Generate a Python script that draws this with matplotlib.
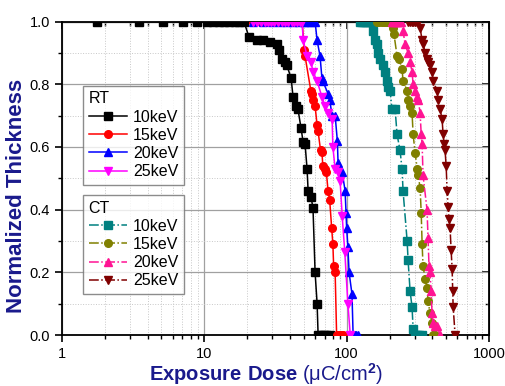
import numpy as np
import matplotlib.pyplot as plt
from matplotlib.ticker import FixedLocator, NullFormatter, MultipleLocator, FormatStrFormatter

plt.rcParams['font.family'] = ['Liberation Sans', 'DejaVu Sans']
plt.rcParams['mathtext.fontset'] = 'custom'
plt.rcParams['mathtext.rm'] = 'Liberation Sans'
plt.rcParams['mathtext.bf'] = 'Liberation Sans:bold'

#RT
rt10_x = [1.76, 3.5, 5.1, 7.1, 8.9, 10.4, 11.5, 12.6, 13.8, 15.0, 16.3, 17.6, 19.0, 20.6, 23.5, 25.9, 29, 32.4, 33.5,
          35.2, 36.9, 38, 40.7, 42, 44.1, 45.5, 47.8, 49.4, 51, 52.7, 53.6, 56.2, 58, 60, 62, 63, 66, 69, 72, 76]
rt10_y = [1, 1, 1, 1, 1, 1, 1, 1, 1, 1, 1, 1, 1, 0.95, 0.94, 0.94, 0.935, 0.93, 0.91,
          0.88, 0.87, 0.86, 0.82, 0.76, 0.73, 0.72, 0.66, 0.617, 0.61, 0.53, 0.46, 0.44, 0.405, 0.20, 0.10, 0.0, 0, 0, 0, 0]

rt15_x = [22, 25, 28, 31, 34, 37, 40, 43, 46, 48.6, 50.5, 51, 56, 57, 58, 60, 62, 63, 65.5, 67, 68, 70, 72, 74,
          76, 78.5, 80, 81, 83, 85, 88, 91, 94]
rt15_y = [1, 1, 1, 1, 1, 1, 1, 1, 1, 1, 0.91, 0.89, 0.78, 0.77, 0.75, 0.73, 0.67, 0.65, 0.59, 0.585, 0.54, 0.53, 0.52, 0.46,
          0.43, 0.34, 0.29, 0.22, 0.20, 0, 0, 0, 0]

rt20_x = [22, 26, 30, 34, 38, 42, 46, 50, 53, 56, 60, 62, 65, 67, 68, 74, 76, 79, 83, 86, 87, 93, 97.5,
          99, 100, 102, 104, 109, 111, 114, 117, 120]
rt20_y = [1, 1, 1, 1, 1, 1, 1, 1, 1, 1, 1, 0.94, 0.89, 0.82, 0.81, 0.77, 0.75, 0.70, 0.70, 0.62, 0.55, 0.52, 0.46,
          0.39, 0.34, 0.28, 0.20, 0.13, 0, 0, 0, 0]

rt25_x = [22, 23.5, 25, 26.5, 28, 29.5, 31, 33, 35, 37, 39, 41, 43, 45, 47, 48.6, 49.5, 52.7, 56.2, 58, 62,
          67, 70.5, 74, 79, 80, 83, 87, 90, 93, 97, 102, 106]
rt25_y = [1, 1, 1, 1, 1, 1, 1, 1, 1, 1, 1, 1, 1, 1, 1, 1, 0.94, 0.89, 0.87, 0.84, 0.81,
          0.76, 0.73, 0.71, 0.69, 0.60, 0.53, 0.52, 0.49, 0.38, 0.265, 0.10, 0]

#CT
ct10_x = [124, 128, 132, 137, 141, 146, 150, 153, 158, 164, 166, 172, 180, 186, 192, 195, 202, 208, 219, 226,
          237, 245, 249, 266, 270, 279, 288, 293, 300, 310, 322, 339]
ct10_y = [1, 1, 1, 1, 1, 1, 1, 0.97, 0.94, 0.93, 0.90, 0.88, 0.86, 0.84, 0.81, 0.79, 0.78, 0.72, 0.72, 0.64,
          0.59, 0.53, 0.46, 0.30, 0.24, 0.14, 0.09, 0.02, 0, 0, 0, 0]

ct15_x = [164, 170, 176, 182, 188, 194, 200, 206, 212, 215, 226, 233, 245, 249, 266, 270, 279, 288, 293, 303,
          313, 318, 328, 334, 339, 344, 356, 367, 373, 385, 398, 405, 412, 418]
ct15_y = [1, 1, 1, 1, 1, 1, 1, 1, 0.98, 0.96, 0.89, 0.88, 0.85, 0.81, 0.78, 0.75, 0.73, 0.71, 0.64, 0.58,
          0.53, 0.51, 0.47, 0.39, 0.29, 0.22, 0.18, 0.15, 0.11, 0.07, 0.04, 0, 0, 0]

ct20_x = [208, 212, 218, 224, 230, 236, 242, 249, 257, 270, 279, 288, 293, 303, 313, 318, 328, 334, 339, 344,
          367, 373, 379, 385, 392, 398, 405, 418, 432, 453]
ct20_y = [1, 1, 1, 1, 1, 1, 1, 0.97, 0.93, 0.90, 0.87, 0.84, 0.80, 0.78, 0.76, 0.75, 0.71, 0.64, 0.61, 0.51,
          0.40, 0.31, 0.22, 0.20, 0.14, 0.07, 0.04, 0.03, 0.03, 0]

ct25_x = [270, 278, 286, 294, 302, 310, 318, 328, 339, 344, 356, 367, 373, 385, 398, 405, 432, 439, 453, 468,
          476, 484, 491, 500, 508, 516, 524, 533, 542, 551, 556, 560, 578]
ct25_y = [1, 1, 1, 1, 1, 1, 1, 0.98, 0.94, 0.93, 0.90, 0.88, 0.87, 0.86, 0.84, 0.81, 0.78, 0.75, 0.72, 0.69,
          0.64, 0.61, 0.59, 0.54, 0.46, 0.41, 0.37, 0.34, 0.27, 0.21, 0.14, 0.09, 0]

labels = ['10keV', '15keV', '20keV', '25keV']
rt_colors = ['black', 'red', 'blue', 'magenta']
ct_colors = ['#008080', '#808000', '#ff1493', '#800000']
markers = ['s', 'o', '^', 'v']

fig = plt.figure(figsize=(5.05, 3.86), dpi=100)
ax = fig.add_axes([0.1228, 0.132, 0.8455, 0.812])

rt_data = [(rt10_x, rt10_y), (rt15_x, rt15_y), (rt20_x, rt20_y), (rt25_x, rt25_y)]
ct_data = [(ct10_x, ct10_y), (ct15_x, ct15_y), (ct20_x, ct20_y), (ct25_x, ct25_y)]

rt_lines = []
for (x, y), c, m, lab in zip(rt_data, rt_colors, markers, labels):
    l, = ax.plot(x, y, color=c, marker=m, ms=5.5, lw=1.1, ls='-', label=lab, zorder=3)
    rt_lines.append(l)
ct_lines = []
for (x, y), c, m, lab in zip(ct_data, ct_colors, markers, labels):
    l, = ax.plot(x, y, color=c, marker=m, ms=5.5, lw=1.1, ls='-.', label=lab, zorder=3)
    ct_lines.append(l)

minor_x = [d * 10**k for k in range(3) for d in range(2, 10)]
yt = np.arange(0, 1.01, 0.2)

ax.set_xscale('log')
ax.set_xlim(1, 1000)
ax.set_ylim(0, 1.0)
ax.set_xticks([1, 10, 100, 1000])
ax.set_xticklabels(['1', '10', '100', '1000'])
ax.xaxis.set_minor_locator(FixedLocator(minor_x))
ax.xaxis.set_minor_formatter(NullFormatter())
ax.set_yticks(yt)
ax.yaxis.set_major_formatter(FormatStrFormatter('%.1f'))
ax.yaxis.set_minor_locator(MultipleLocator(0.1))

ax.grid(True, which='major', color='#a0a0a0', lw=0.9, ls='-')
ax.grid(True, which='minor', color='#c8c8c8', lw=0.7, ls=':')
ax.set_axisbelow(True)

ax.tick_params(which='both', direction='out', labelsize=10.5, top=False, right=False)
ax.tick_params(which='major', length=5, width=1.2)
ax.tick_params(which='minor', length=3, width=1)
ax2 = ax.secondary_xaxis('top')
ax2.set_xticks([1, 10, 100, 1000])
ax2.xaxis.set_minor_locator(FixedLocator(minor_x))
ax2.tick_params(which='both', direction='in', labeltop=False)
ax2.tick_params(which='major', length=5, width=1.2)
ax2.tick_params(which='minor', length=3, width=1)
ax3 = ax.secondary_yaxis('right')
ax3.set_yticks(yt)
ax3.yaxis.set_minor_locator(MultipleLocator(0.1))
ax3.tick_params(which='both', direction='in', labelright=False)
ax3.tick_params(which='major', length=5, width=1.2)
ax3.tick_params(which='minor', length=3, width=1)
for s in ax.spines.values():
    s.set_linewidth(1.3)

navy = '#1a1a8c'
ax.set_ylabel('Normalized Thickness', fontsize=16, fontweight='bold', color=navy)
ax.yaxis.set_label_coords(-0.083, 0.444)
ax.set_xlabel(r'$\mathbf{Exposure\ Dose}$ (μC/cm$^{\mathbf{2}}$)', fontsize=14.5, color=navy)
ax.xaxis.set_label_coords(0.479, -0.082)

leg_kw = dict(loc='upper left', fontsize=11.5, title_fontsize=11.5, handlelength=2.4, frameon=True,
              fancybox=False, edgecolor='#707070', borderaxespad=0, handletextpad=0.4,
              labelspacing=0.2, borderpad=0.35, alignment='left')
leg1 = ax.legend(handles=rt_lines, title='RT', bbox_to_anchor=(0.049, 0.795), **leg_kw)
leg1.get_frame().set_linewidth(1.0)
ax.add_artist(leg1)
leg2 = ax.legend(handles=ct_lines, title='CT', bbox_to_anchor=(0.049, 0.447), **leg_kw)
leg2.get_frame().set_linewidth(1.0)

plt.savefig('out.png', dpi=100)
